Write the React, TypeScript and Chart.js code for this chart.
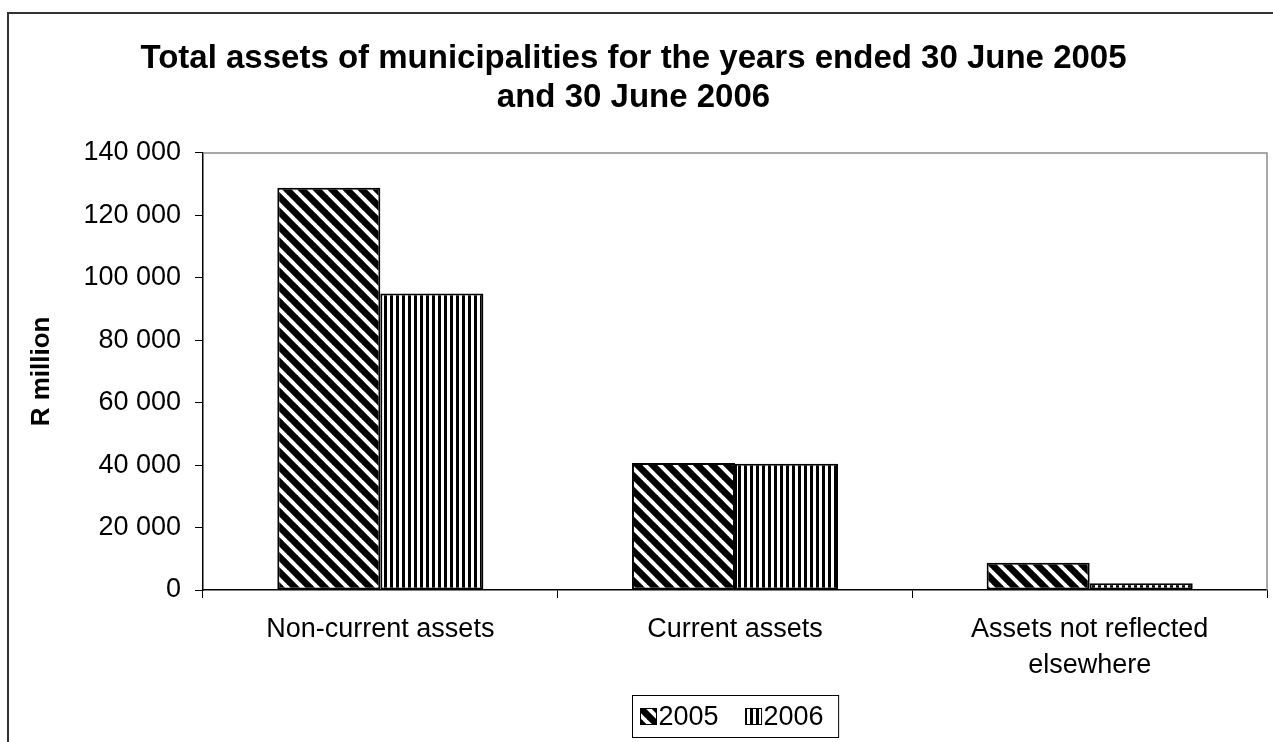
import React, { useEffect, useRef } from "react";
import { Chart, registerables } from "chart.js";

Chart.register(...registerables);

const categories: (string | string[])[] = [
  "Non-current assets",
  "Current assets",
  ["Assets not reflected", "elsewhere"],
];
const seriesNames = ["2005", "2006"];
const values2005 = [128800, 40700, 8700];
const values2006 = [95000, 40400, 2200];
const yTickMax = 140000;
const yTickStep = 20000;
const titleLines = [
  "Total assets of municipalities for the years ended 30 June 2005",
  "and 30 June 2006",
];
const yAxisTitle = "R million";

const FONT = '"Liberation Sans", Arial, sans-serif';

function makeDiagonalPattern(): CanvasPattern | string {
  const s = 15;
  const c = document.createElement("canvas");
  c.width = s;
  c.height = s;
  const g = c.getContext("2d");
  if (!g) return "#000";
  g.fillStyle = "#000";
  g.fillRect(0, 0, s, s);
  g.strokeStyle = "#fff";
  g.lineWidth = 4;
  for (const k of [-s, 0, s]) {
    g.beginPath();
    g.moveTo(k - 1, -1);
    g.lineTo(k + s + 1, s + 1);
    g.stroke();
  }
  return g.createPattern(c, "repeat") || "#000";
}

function makeVerticalPattern(): CanvasPattern | string {
  const c = document.createElement("canvas");
  c.width = 6;
  c.height = 6;
  const g = c.getContext("2d");
  if (!g) return "#000";
  g.fillStyle = "#fff";
  g.fillRect(0, 0, 6, 6);
  g.fillStyle = "#000";
  g.fillRect(0, 0, 3, 6);
  return g.createPattern(c, "repeat") || "#000";
}

function formatThousands(v: number): string {
  const s = Math.round(v).toString();
  return s.replace(/\B(?=(\d{3})+(?!\d))/g, " ");
}

export default function App() {
  const ref = useRef<HTMLCanvasElement | null>(null);

  useEffect(() => {
    const canvas = ref.current;
    if (!canvas) return;
    const pDiag = makeDiagonalPattern();
    const pVert = makeVerticalPattern();
    const patterns = [pDiag, pVert];

    const framePlugin = {
      id: "frame",
      beforeDraw(chart: any) {
        const { ctx } = chart;
        ctx.save();
        ctx.strokeStyle = "#333";
        ctx.lineWidth = 2;
        ctx.strokeRect(8, 13, 1400, 1000);
        ctx.restore();
      },
      beforeDatasetsDraw(chart: any) {
        const { ctx, chartArea } = chart;
        ctx.save();
        ctx.strokeStyle = "#8c8c8c";
        ctx.lineWidth = 1.5;
        ctx.beginPath();
        ctx.moveTo(chartArea.left, chartArea.top);
        ctx.lineTo(chartArea.right, chartArea.top);
        ctx.lineTo(chartArea.right, chartArea.bottom);
        ctx.stroke();
        ctx.restore();
      },
      afterDraw(chart: any) {
        const { ctx, chartArea } = chart;
        ctx.save();
        const fontPx = 27;
        ctx.font = `${fontPx}px ${FONT}`;
        const sw = 16;
        const gapSw = 2;
        const gapItems = 27;
        const padL = 8;
        const padR = 15;
        const textWs = seriesNames.map((n) => ctx.measureText(n).width);
        let total = padL + padR + gapItems * (seriesNames.length - 1);
        textWs.forEach((w) => (total += sw + gapSw + w));
        const cx = (chartArea.left + chartArea.right) / 2;
        const left = Math.round(cx - total / 2) + 0.5;
        const top = chartArea.bottom + 105.5;
        const h = 42;
        ctx.fillStyle = "#fff";
        ctx.fillRect(left, top, total, h);
        ctx.strokeStyle = "#000";
        ctx.lineWidth = 1;
        ctx.strokeRect(left, top, total, h);
        let x = left + padL;
        const cy = top + h / 2;
        seriesNames.forEach((n, i) => {
          ctx.fillStyle = patterns[i] as any;
          ctx.fillRect(x, cy - sw / 2, sw, sw);
          ctx.strokeStyle = "#000";
          ctx.lineWidth = 1;
          ctx.strokeRect(x, cy - sw / 2, sw, sw);
          x += sw + gapSw;
          ctx.fillStyle = "#000";
          ctx.textAlign = "left";
          ctx.textBaseline = "middle";
          ctx.fillText(n, x, cy + 1);
          x += textWs[i] + gapItems;
        });
        ctx.restore();
      },
    };

    const chart = new Chart(canvas, {
      type: "bar",
      data: {
        labels: categories as any,
        datasets: [
          {
            label: seriesNames[0],
            data: values2005,
            backgroundColor: pDiag as any,
            borderColor: "#000",
            borderWidth: 2,
            borderSkipped: false,
            categoryPercentage: 0.581,
            barPercentage: 1,
          },
          {
            label: seriesNames[1],
            data: values2006,
            backgroundColor: pVert as any,
            borderColor: "#000",
            borderWidth: 2,
            borderSkipped: false,
            categoryPercentage: 0.581,
            barPercentage: 1,
          },
        ],
      },
      options: {
        responsive: false,
        animation: false,
        devicePixelRatio: 1,
        layout: { padding: { left: 0, right: 6, top: 0, bottom: 0 } },
        plugins: {
          legend: { display: false },
          tooltip: { enabled: false },
          title: {
            display: true,
            text: titleLines,
            color: "#000",
            font: { family: FONT, size: 33, weight: "bold", lineHeight: 1.18 },
            padding: { top: 39, bottom: 36 },
          },
        },
        scales: {
          x: {
            grid: {
              display: true,
              drawOnChartArea: false,
              drawTicks: true,
              tickLength: 8,
              color: "#000",
              offset: true,
            },
            border: { display: true, color: "#000", width: 1.5 },
            ticks: {
              color: "#000",
              font: { family: FONT, size: 27, lineHeight: 1.35 },
              padding: 13,
              maxRotation: 0,
              autoSkip: false,
            },
            afterFit(scale: any) {
              scale.height = 152;
            },
          },
          y: {
            min: 0,
            max: yTickMax,
            grid: {
              display: true,
              drawOnChartArea: false,
              drawTicks: true,
              tickLength: 8,
              color: "#000",
            },
            border: { display: true, color: "#000", width: 1.5 },
            ticks: {
              stepSize: yTickStep,
              color: "#000",
              font: { family: FONT, size: 27 },
              padding: 14,
              callback: (v: any) => formatThousands(Number(v)),
            },
            title: {
              display: true,
              text: yAxisTitle,
              color: "#000",
              font: { family: FONT, size: 26, weight: "bold", lineHeight: 1.2 },
              padding: { top: 26, bottom: 0 },
            },
            afterFit(scale: any) {
              scale.width = 203;
            },
          },
        },
      },
      plugins: [framePlugin],
    });
    return () => chart.destroy();
  }, []);

  return (
    <div style={{ position: "fixed", left: 0, top: 0, width: 1273, height: 742, background: "#fff" }}>
      <canvas ref={ref} width={1273} height={742} style={{ display: "block", width: 1273, height: 742 }} />
    </div>
  );
}
